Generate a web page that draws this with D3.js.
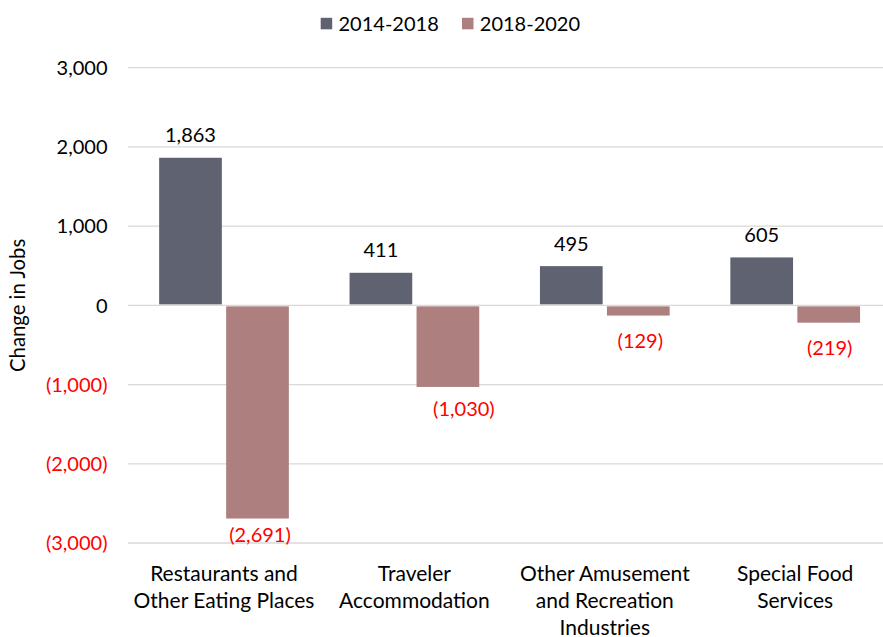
<!DOCTYPE html>
<html>
<head>
<meta charset="utf-8">
<script src="https://cdn.jsdelivr.net/npm/d3@7"></script>
<style>
  html, body { margin: 0; padding: 0; background: #fff; }
  svg { display: block; font-family: Lato, "Open Sans", sans-serif; }
</style>
</head>
<body>
<svg id="chart" width="883" height="637"></svg>
<script>
// ---- data ----
const categories = [
  ["Restaurants and", "Other Eating Places"],
  ["Traveler", "Accommodation"],
  ["Other Amusement", "and Recreation", "Industries"],
  ["Special Food", "Services"]
];
const categoryKeys = categories.map(c => c.join(" "));
const seriesNames = ["2014-2018", "2018-2020"];
const values2014_2018 = [1863, 411, 495, 605];
const values2018_2020 = [-2691, -1030, -129, -219];
const yTicks = [3000, 2000, 1000, 0, -1000, -2000, -3000];

const colors = ["#5F6271", "#AD7F7F"];
const red = "#FF0000";

// label nudges for the negative data labels (px), per category
const negLabelNudge = [{dx: 2.5, dy: 23.7}, {dx: 16, dy: 29}, {dx: 2, dy: 32}, {dx: 1, dy: 32.3}];

const svg = d3.select("#chart");
const numSize = 20;
const wordSize = 21;

const y = d3.scaleLinear().domain([-3000, 3000]).range([543, 67.7]);
const x0 = d3.scaleBand().domain(categoryKeys).range([128.8, 890.4]).padding(0);
const x1 = d3.scaleBand().domain(seriesNames)
  .range([30.35, x0.bandwidth() - 30.35]).paddingInner(0.0642);

const fmt = v => v < 0 ? "(" + d3.format(",")(-v) + ")" : d3.format(",")(v);

// gridlines
svg.append("g").selectAll("line").data(yTicks).join("line")
  .attr("x1", 128).attr("x2", 883)
  .attr("y1", d => y(d)).attr("y2", d => y(d))
  .attr("stroke", "#D9D9D9").attr("stroke-width", 1.3);

// y tick labels
svg.append("g").selectAll("text").data(yTicks).join("text")
  .attr("x", 107.5)
  .attr("y", d => y(d) + 7.2)
  .attr("text-anchor", "end")
  .attr("font-size", numSize)
  .attr("fill", d => d < 0 ? red : "#000")
  .text(fmt);

// y axis title
svg.append("text")
  .attr("transform", `translate(24.5,${y(0)}) rotate(-90)`)
  .attr("text-anchor", "middle")
  .attr("font-size", 20.3)
  .attr("fill", "#000")
  .text("Change in Jobs");

// bars
const rows = categoryKeys.map((k, i) => ({
  key: k, i,
  vals: [values2014_2018[i], values2018_2020[i]]
}));

const groups = svg.append("g").selectAll("g").data(rows).join("g")
  .attr("transform", d => `translate(${x0(d.key)},0)`);

groups.selectAll("rect").data(d => d.vals.map((v, j) => ({v, j, s: seriesNames[j]})))
  .join("rect")
  .attr("x", d => x1(d.s))
  .attr("width", x1.bandwidth())
  .attr("y", d => d.v >= 0 ? y(d.v) : y(0) + 1)
  .attr("height", d => d.v >= 0 ? y(0) - y(d.v) - 1 : y(d.v) - y(0) - 1)
  .attr("fill", d => colors[d.j]);

// data labels
groups.each(function(row) {
  const g = d3.select(this);
  row.vals.forEach((v, j) => {
    const cx = x1(seriesNames[j]) + x1.bandwidth() / 2;
    if (v >= 0) {
      g.append("text")
        .attr("x", cx).attr("y", y(v) - 15.3)
        .attr("text-anchor", "middle").attr("font-size", numSize)
        .attr("fill", "#000").text(fmt(v));
    } else {
      const n = negLabelNudge[row.i];
      g.append("text")
        .attr("x", cx + n.dx).attr("y", y(v) + n.dy)
        .attr("text-anchor", "middle").attr("font-size", numSize)
        .attr("fill", red).text(fmt(v));
    }
  });
});

// category labels
const catG = svg.append("g").selectAll("text").data(categories).join("text")
  .attr("text-anchor", "middle")
  .attr("font-size", wordSize)
  .attr("fill", "#000");
catG.each(function(lines, i) {
  const t = d3.select(this);
  const cx = x0(categoryKeys[i]) + x0.bandwidth() / 2;
  lines.forEach((ln, k) => {
    t.append("tspan").attr("x", cx).attr("y", 580.5 + k * 27.3).text(ln);
  });
});

// legend
const legendX = [320.7, 462];
const leg = svg.append("g").selectAll("g").data(seriesNames).join("g")
  .attr("transform", (d, i) => `translate(${legendX[i]},0)`);
leg.append("rect").attr("x", 0).attr("y", 17.8).attr("width", 11.5).attr("height", 11.5)
  .attr("fill", (d, i) => colors[i]);
leg.append("text").attr("x", 17.8).attr("y", 30.6)
  .attr("font-size", numSize).attr("fill", "#000").text(d => d);
</script>
</body>
</html>
